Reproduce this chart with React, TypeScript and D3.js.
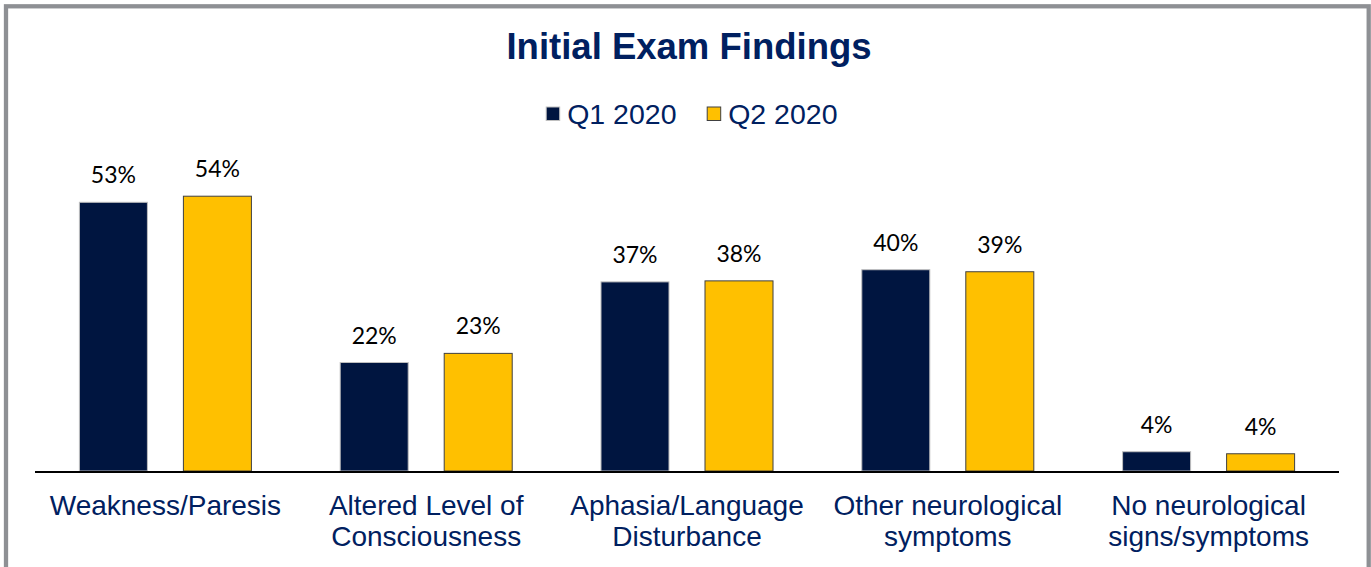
import React from "react";
import * as d3 from "d3";

const categories = [
  "Weakness/Paresis",
  "Altered Level of Consciousness",
  "Aphasia/Language Disturbance",
  "Other neurological symptoms",
  "No neurological signs/symptoms",
];
const categoryLines = [
  ["Weakness/Paresis"],
  ["Altered Level of", "Consciousness"],
  ["Aphasia/Language", "Disturbance"],
  ["Other neurological", "symptoms"],
  ["No neurological", "signs/symptoms"],
];
const seriesNames = ["Q1 2020", "Q2 2020"];
const q1Values = [53.0, 21.4, 37.3, 39.7, 3.8];
const q2Values = [54.2, 23.2, 37.5, 39.3, 3.4];
const q1Labels = ["53%", "22%", "37%", "40%", "4%"];
const q2Labels = ["54%", "23%", "38%", "39%", "4%"];

const W = 1371;
const H = 567;
const baseY = 471;
const colors = ["#001540", "#FFC000"];
const strokes = ["#bfbfbf", "#404040"];
const navy = "#002060";

export default function App() {
  const x0 = d3.scaleBand<string>().domain(categories).range([35, 1339]).padding(0);
  const x1 = d3
    .scaleBand<string>()
    .domain(seriesNames)
    .range([0, x0.bandwidth()])
    .paddingInner(0.3365)
    .paddingOuter(0.422);
  const y = d3.scaleLinear().domain([0, 60]).range([baseY, baseY - 60 * 5.07]);

  const values = [q1Values, q2Values];
  const labels = [q1Labels, q2Labels];

  return (
    <svg
      width={W}
      height={H}
      style={{ position: "absolute", left: 0, top: 0, background: "#fff" }}
    >
      <rect x={0} y={0} width={W} height={H} fill="#fff" />
      <rect x={6} y={6.3} width={1362.7} height={H + 20} fill="none" stroke="#8e9094" strokeWidth={4.3} />
      <text
        x={689}
        y={59}
        textAnchor="middle"
        fontFamily="'Liberation Sans', Arial, sans-serif"
        fontWeight="bold"
        fontSize={36.5}
        fill={navy}
      >
        Initial Exam Findings
      </text>
      {/* legend */}
      {seriesNames.map((s, i) => {
        const lx = [545.7, 706.7][i];
        return (
          <g key={s}>
            <rect
              x={lx + 0.5}
              y={107}
              width={13.5}
              height={13.5}
              fill={colors[i]}
              stroke={strokes[i]}
              strokeWidth={1}
            />
            <text
              x={lx + 21.5}
              y={124}
              fontFamily="'Liberation Sans', Arial, sans-serif"
              fontSize={28.5}
              fill={navy}
            >
              {s}
            </text>
          </g>
        );
      })}
      {/* bars */}
      {categories.map((c, ci) => (
        <g key={c} transform={`translate(${x0(c)},0)`}>
          {seriesNames.map((s, si) => {
            const v = values[si][ci];
            const bx = x1(s)!;
            return (
              <g key={s}>
                <rect
                  x={bx + 0.5}
                  y={y(v)}
                  width={x1.bandwidth() - 1}
                  height={baseY - y(v)}
                  fill={colors[si]}
                  stroke={strokes[si]}
                  strokeWidth={1}
                />
                <text
                  x={bx + x1.bandwidth() / 2}
                  y={y(v) - 19}
                  textAnchor="middle"
                  fontFamily="Lato, 'Open Sans', sans-serif"
                  fontSize={23}
                  fill="#000"
                >
                  {labels[si][ci]}
                </text>
              </g>
            );
          })}
        </g>
      ))}
      {/* axis */}
      <line x1={35} x2={1339} y1={472} y2={472} stroke="#000" strokeWidth={2} />
      {categories.map((c, ci) => (
        <text
          key={c}
          x={x0(c)! + x0.bandwidth() / 2}
          y={515}
          textAnchor="middle"
          fontFamily="'Liberation Sans', Arial, sans-serif"
          fontSize={28}
          fill={navy}
        >
          {categoryLines[ci].map((ln, li) => (
            <tspan key={li} x={x0(c)! + x0.bandwidth() / 2} dy={li === 0 ? 0 : 30.5}>
              {ln}
            </tspan>
          ))}
        </text>
      ))}
    </svg>
  );
}
